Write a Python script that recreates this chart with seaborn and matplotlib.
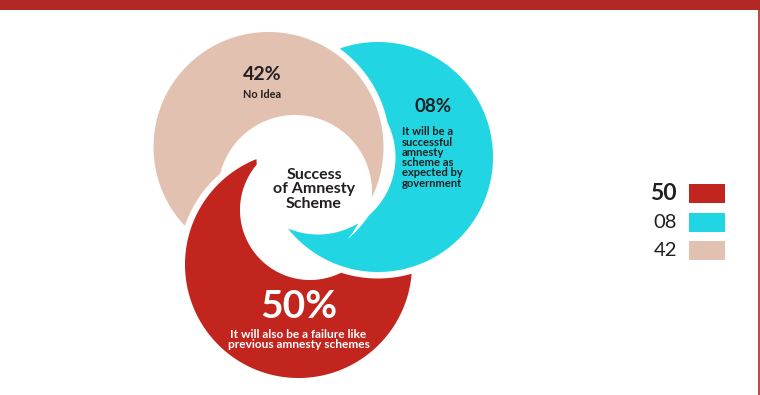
import numpy as np
import matplotlib
matplotlib.use("Agg")
import matplotlib.pyplot as plt
from matplotlib.patches import Rectangle
import seaborn as sns

# Survey answers: "Success of Amnesty Scheme"
shares = [50, 8, 42]
share_labels = ["50%", "08%", "42%"]
legend_labels = ["50", "08", "42"]
answers = [
    "It will also be a failure like\nprevious amnesty schemes",
    "It will be a\nsuccessful\namnesty\nscheme as\nexpected by\ngovernment",
    "No Idea",
]
center_title = "Success\nof Amnesty\nScheme"
palette = sns.color_palette(["#C2251D", "#21D5E3", "#E3C1B0"])

sns.set_theme(style="white")
plt.rcParams["font.family"] = ["Lato", "DejaVu Sans"]
INK = "#231F20"
BRAND = "#B22825"

W, H = 760, 395
fig = plt.figure(figsize=(W / 100, H / 100), dpi=100)
ax = fig.add_axes([0, 0, 1, 1])
ax.set_xlim(0, W)
ax.set_ylim(H, 0)
ax.axis("off")

# Swirl geometry (pixel space): outer disc and inner cut-out of each petal
outer = [((298.5, 264.5), 113.5), ((378.0, 157.0), 115.0), ((268.5, 147.0), 115.0)]
inner = [((310.0, 210.0), 70.0), ((318.0, 157.0), 77.5), ((295.0, 192.0), 77.0)]
gap = 6.5

xs = np.linspace(0, W, 2 * W + 1)
ys = np.linspace(0, H, 2 * H + 1)
X, Y = np.meshgrid(xs, ys)


def disc(c, r):
    return np.hypot(X - c[0], Y - c[1]) - r


def cut(shape, top):
    """Remove from `shape` everything within `gap` of the shape lying on top."""
    return np.maximum(shape, gap - top)


crescents = [np.maximum(disc(*o), -disc(*i)) for o, i in zip(outer, inner)]
red = cut(crescents[0], disc(*outer[1]))      # red tucks under the cyan disc
beige = cut(crescents[2], red)                # beige tucks under red
cyan = cut(crescents[1], beige)               # cyan tucks under beige
fields = [red, cyan, beige]

for k, share in enumerate(shares):
    field = fields[k]
    ax.contourf(X, Y, field, levels=[field.min() - 1, 0], colors=[palette[k]],
                antialiased=True)

# Percentages and answer texts inside the petals
ax.text(298.5, 306, share_labels[0], ha="center", va="center", color="white",
        fontsize=28, fontweight="bold")
ax.text(298.5, 339.5, answers[0], ha="center", va="center", color="white",
        fontsize=8.6, fontweight="bold", linespacing=0.98)
ax.text(433, 107, share_labels[1], ha="center", va="center", color=INK,
        fontsize=13.5, fontweight="bold")
ax.text(402, 157.5, answers[1], ha="left", va="center", color=INK,
        fontsize=8.0, fontweight="bold", linespacing=0.92)
ax.text(262, 75, share_labels[2], ha="center", va="center", color=INK,
        fontsize=14, fontweight="bold")
ax.text(262.5, 94, answers[2], ha="center", va="center", color=INK,
        fontsize=7.8, fontweight="bold")
ax.text(314, 189.5, center_title, ha="center", va="center", color=INK,
        fontsize=11.5, fontweight="bold", linespacing=1.05)

# Legend: value next to a colour swatch
leg_y = [193.5, 222.5, 250.5]
for k, lab in enumerate(legend_labels):
    bold = k == 0
    ax.text(677, leg_y[k], lab, ha="right", va="center", color=INK,
            fontsize=16.5 if bold else 14.5,
            fontweight="bold" if bold else "normal")
    ax.add_patch(Rectangle((689, leg_y[k] - 9.5), 36, 19, color=palette[k], lw=0))

# Page frame: header band and right rule
ax.add_patch(Rectangle((0, 0), W, 10, color=BRAND, lw=0))
ax.plot([758.5, 758.5], [10, H], color=BRAND, lw=1.2)

fig.savefig("out.png", dpi=100)
